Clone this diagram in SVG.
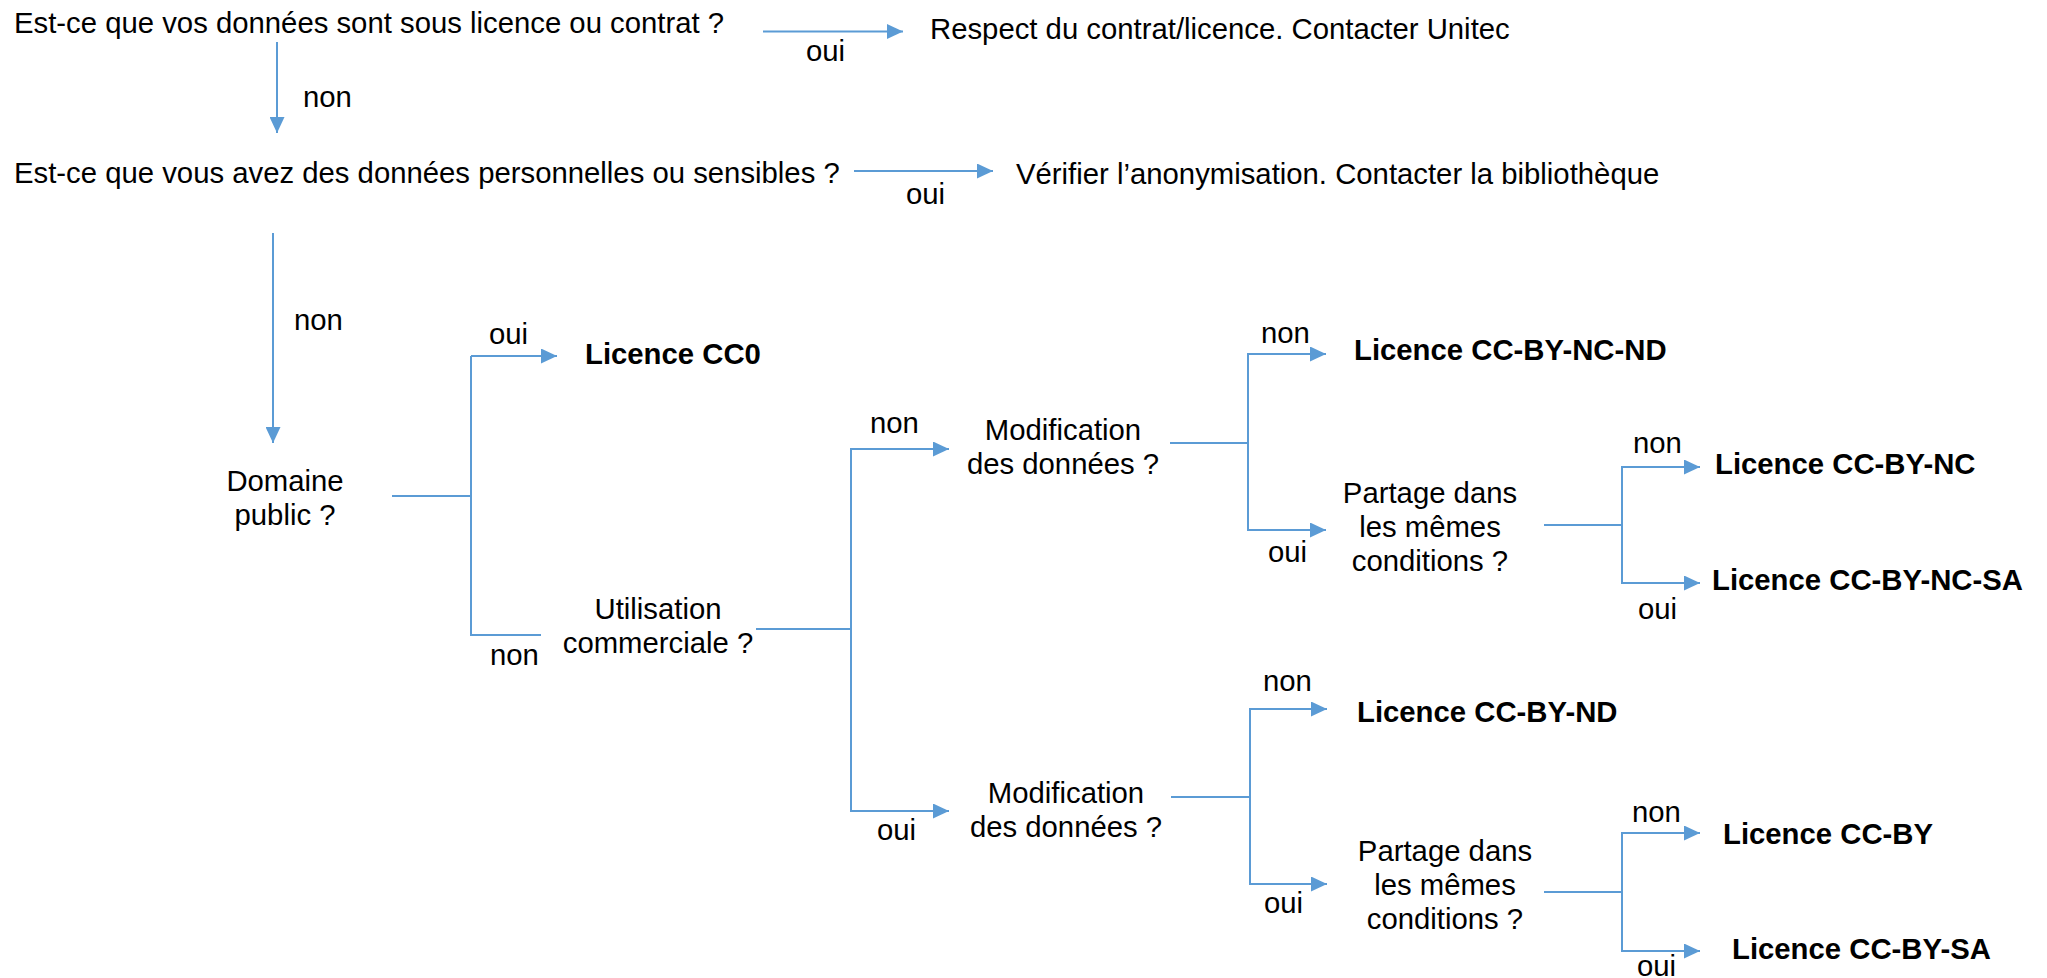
<svg xmlns="http://www.w3.org/2000/svg" width="2047" height="978" viewBox="0 0 2047 978">
  <defs>
    <marker id="arr" markerUnits="userSpaceOnUse" markerWidth="16" markerHeight="15" refX="16" refY="7.5" orient="auto">
      <path d="M0,0 L16,7.5 L0,15 z" fill="#5B9BD5"/>
    </marker>
    <style>
      text { font-family: "Liberation Sans", Arial, sans-serif; font-size: 29.3px; fill: #000; }
      .b { font-weight: bold; }
      .m { text-anchor: middle; }
      .c { fill: none; stroke: #5B9BD5; stroke-width: 2; }
      .a { marker-end: url(#arr); }
    </style>
  </defs>
  <rect width="2047" height="978" fill="#fff"/>

  <g id="connectors">
    <path class="c a" d="M763,31.5 H903"/>
    <path class="c a" d="M277,42 V133"/>
    <path class="c a" d="M854,171 H993"/>
    <path class="c a" d="M273,233 V443"/>
    <!-- Domaine public -->
    <path class="c" d="M392,496 H471"/>
    <path class="c" d="M471,356 V635 H541"/>
    <path class="c a" d="M471,356 H557"/>
    <!-- Utilisation commerciale -->
    <path class="c" d="M756,629 H851"/>
    <path class="c a" d="M851,629 V449 H949"/>
    <path class="c a" d="M851,629 V811 H949"/>
    <!-- upper Modification -->
    <path class="c" d="M1170,443 H1248"/>
    <path class="c a" d="M1248,443 V354 H1326"/>
    <path class="c a" d="M1248,443 V530 H1326"/>
    <!-- upper Partage -->
    <path class="c" d="M1544,525 H1622"/>
    <path class="c a" d="M1622,525 V467 H1700"/>
    <path class="c a" d="M1622,525 V583 H1700"/>
    <!-- lower Modification -->
    <path class="c" d="M1171,797 H1250"/>
    <path class="c a" d="M1250,797 V709 H1327"/>
    <path class="c a" d="M1250,797 V884 H1327"/>
    <!-- lower Partage -->
    <path class="c" d="M1544,892 H1622"/>
    <path class="c a" d="M1622,892 V833 H1700"/>
    <path class="c a" d="M1622,892 V951 H1700"/>

    <g id="labels">
      <text x="806" y="61">oui</text>
      <text x="303" y="107">non</text>
      <text x="906" y="204">oui</text>
      <text x="294" y="330">non</text>
      <text x="489" y="344">oui</text>
      <text x="490" y="665">non</text>
      <text x="870" y="433">non</text>
      <text x="877" y="840">oui</text>
      <text x="1261" y="343">non</text>
      <text x="1268" y="562">oui</text>
      <text x="1633" y="453">non</text>
      <text x="1638" y="619">oui</text>
      <text x="1263" y="691">non</text>
      <text x="1264" y="913">oui</text>
      <text x="1632" y="822">non</text>
      <text x="1637" y="976">oui</text>
    </g>
  </g>

  <g id="q-licence"><text x="14" y="33">Est-ce que vos données sont sous licence ou contrat ?</text></g>
  <g id="r-respect"><text x="930" y="39">Respect du contrat/licence. Contacter Unitec</text></g>
  <g id="q-perso"><text x="14" y="183">Est-ce que vous avez des données personnelles ou sensibles ?</text></g>
  <g id="r-anonym"><text x="1016" y="184">Vérifier l’anonymisation. Contacter la bibliothèque</text></g>

  <g id="q-domaine"><text class="m" x="285" y="491">Domaine</text><text class="m" x="285" y="525">public ?</text></g>
  <g id="l-cc0"><text class="b" x="585" y="364">Licence CC0</text></g>
  <g id="q-commerciale"><text class="m" x="658" y="619">Utilisation</text><text class="m" x="658" y="653">commerciale ?</text></g>

  <g id="q-modif-1"><text class="m" x="1063" y="440">Modification</text><text class="m" x="1063" y="474">des données ?</text></g>
  <g id="l-cc-by-nc-nd"><text class="b" x="1354" y="360">Licence CC-BY-NC-ND</text></g>
  <g id="q-partage-1"><text class="m" x="1430" y="503">Partage dans</text><text class="m" x="1430" y="537">les mêmes</text><text class="m" x="1430" y="571">conditions ?</text></g>
  <g id="l-cc-by-nc"><text class="b" x="1715" y="474">Licence CC-BY-NC</text></g>
  <g id="l-cc-by-nc-sa"><text class="b" x="1712" y="590">Licence CC-BY-NC-SA</text></g>

  <g id="q-modif-2"><text class="m" x="1066" y="803">Modification</text><text class="m" x="1066" y="837">des données ?</text></g>
  <g id="l-cc-by-nd"><text class="b" x="1357" y="722">Licence CC-BY-ND</text></g>
  <g id="q-partage-2"><text class="m" x="1445" y="861">Partage dans</text><text class="m" x="1445" y="895">les mêmes</text><text class="m" x="1445" y="929">conditions ?</text></g>
  <g id="l-cc-by"><text class="b" x="1723" y="844">Licence CC-BY</text></g>
  <g id="l-cc-by-sa"><text class="b" x="1732" y="959">Licence CC-BY-SA</text></g>
</svg>
